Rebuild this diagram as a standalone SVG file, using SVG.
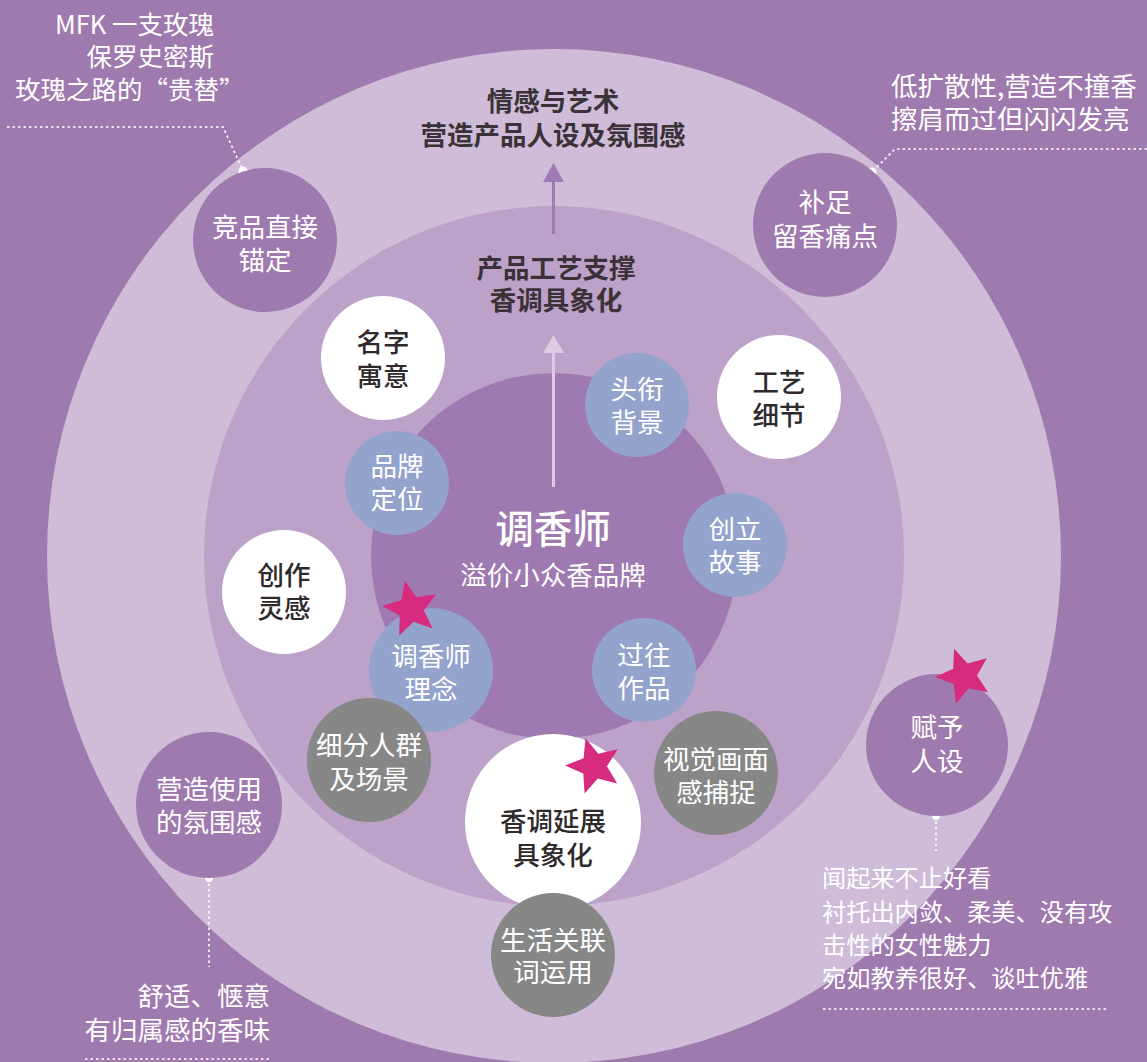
<svg xmlns="http://www.w3.org/2000/svg" width="1147" height="1062" viewBox="0 0 1147 1062">
<style>
text{font-family:"Noto Sans CJK SC","Noto Sans",sans-serif;}
.nt{font-size:26.5px;fill:#ffffff;text-anchor:middle;}
.dk{font-size:26.5px;fill:#2e2a2c;text-anchor:middle;font-weight:500;}
.hd{font-size:26.5px;fill:#3a3236;text-anchor:middle;font-weight:700;}
.an{fill:#ffffff;}
.a24{font-size:24.2px;}
.a25{font-size:25.5px;}
.a26{font-size:26.5px;}
.bg{fill:#9e7aae;}
.wh{fill:#ffffff;}
.bl{fill:#94a3cc;}
.gr{fill:#878787;}
.dot{stroke:#ffffff;stroke-width:1.6;stroke-dasharray:2.5 3;fill:none;}
.star{fill:#d62b7e;}
</style>
<defs>
<polygon id="star" points="0,-29 7.64,-10.52 27.58,-8.96 12.36,4.02 17.05,23.46 0,13 -17.05,23.46 -12.36,4.02 -27.58,-8.96 -7.64,-10.52"/>
</defs>
<rect width="1147" height="1062" fill="#9e7aae"/>
<g id="rings">
<circle cx="554" cy="556" r="507" fill="#cebcd8"/>
<circle cx="554" cy="556" r="350" fill="#bca2c8"/>
<circle cx="554" cy="556" r="183" fill="#9e7ab0"/>
</g>
<g id="connectors">
<line x1="553.5" y1="234" x2="553.5" y2="180" stroke="#9f7bb5" stroke-width="3"/>
<polygon points="553.5,163 564,182 543,182" fill="#9f7bb5"/>
<line x1="553.5" y1="487" x2="553.5" y2="351" stroke="#dccbe3" stroke-width="3"/>
<polygon points="553.5,335 564,353 543,353" fill="#dccbe3"/>
<polyline class="dot" points="7,127 223,127 243,171"/>
<circle cx="243" cy="171" r="4.5" fill="#ffffff"/>
<polyline class="dot" points="1147,149 895,149 872,172"/>
<circle cx="872" cy="172" r="4.5" fill="#ffffff"/>
<line class="dot" x1="936" y1="816" x2="936" y2="851"/>
<circle cx="936" cy="816" r="4" fill="#ffffff"/>
<line class="dot" x1="823" y1="1009" x2="1107" y2="1009"/>
<line class="dot" x1="209" y1="878" x2="209" y2="967"/>
<circle cx="209" cy="878" r="4" fill="#ffffff"/>
<line class="dot" x1="85" y1="1059" x2="269" y2="1059"/>
</g>
<g id="titles">
<text class="hd" x="553" y="111">情感与艺术</text>
<text class="hd" x="553" y="145">营造产品人设及氛围感</text>
<text class="hd" x="556" y="278">产品工艺支撑</text>
<text class="hd" x="556" y="310">香调具象化</text>
</g>
<g id="center">
<text x="553" y="543" font-size="38.5" fill="#ffffff" text-anchor="middle" font-weight="500">调香师</text>
<text x="553" y="585" font-size="26.5" fill="#ffffff" text-anchor="middle">溢价小众香品牌</text>
</g>
<g id="node-jingpin"><circle class="bg" cx="265" cy="240" r="72"/><text class="nt" x="265" y="237">竞品直接</text><text class="nt" x="265" y="270">锚定</text></g>
<g id="node-buzu"><circle class="bg" cx="825" cy="225" r="72"/><text class="nt" x="825" y="212">补足</text><text class="nt" x="825" y="246">留香痛点</text></g>
<g id="node-mingzi"><circle class="wh" cx="383" cy="358" r="62"/><text class="dk" x="383" y="352">名字</text><text class="dk" x="383" y="386">寓意</text></g>
<g id="node-gongyi"><circle class="wh" cx="779" cy="397" r="62"/><text class="dk" x="779" y="392">工艺</text><text class="dk" x="779" y="425">细节</text></g>
<g id="node-touxian"><circle class="bl" cx="637" cy="405" r="52"/><text class="nt" x="637" y="399">头衔</text><text class="nt" x="637" y="432">背景</text></g>
<g id="node-pinpai"><circle class="bl" cx="397" cy="483" r="52"/><text class="nt" x="397" y="476">品牌</text><text class="nt" x="397" y="509">定位</text></g>
<g id="node-chuangli"><circle class="bl" cx="735" cy="545" r="52"/><text class="nt" x="735" y="539">创立</text><text class="nt" x="735" y="572">故事</text></g>
<g id="node-chuangzuo"><circle class="wh" cx="284" cy="592" r="62"/><text class="dk" x="284" y="585">创作</text><text class="dk" x="284" y="618">灵感</text></g>
<g id="node-guowang"><circle class="bl" cx="644" cy="670" r="52"/><text class="nt" x="644" y="665">过往</text><text class="nt" x="644" y="698">作品</text></g>
<g id="node-linian"><circle class="bl" cx="431" cy="670" r="62"/><text class="nt" x="431" y="666">调香师</text><text class="nt" x="431" y="699">理念</text></g>
<g id="node-xifen"><circle class="gr" cx="369" cy="760" r="62"/><text class="nt" x="369" y="755">细分人群</text><text class="nt" x="369" y="789">及场景</text></g>
<g id="node-shijue"><circle class="gr" cx="716" cy="773" r="62"/><text class="nt" x="716" y="769">视觉画面</text><text class="nt" x="716" y="802">感捕捉</text></g>
<g id="node-xiangdiao"><circle class="wh" cx="553" cy="822" r="88"/><text class="dk" x="553" y="831">香调延展</text><text class="dk" x="553" y="865">具象化</text></g>
<g id="node-shenghuo"><circle class="gr" cx="553" cy="955" r="62"/><text class="nt" x="553" y="950">生活关联</text><text class="nt" x="553" y="982">词运用</text></g>
<g id="node-yingzao"><circle class="bg" cx="209" cy="805" r="73"/><text class="nt" x="209" y="799">营造使用</text><text class="nt" x="209" y="832">的氛围感</text></g>
<g id="node-fuyu"><circle class="bg" cx="937" cy="745" r="71"/><text class="nt" x="937" y="737">赋予</text><text class="nt" x="937" y="771">人设</text></g>
<g id="stars">
<use href="#star" class="star" transform="translate(411,609) rotate(-12)"/>
<use href="#star" class="star" transform="translate(594,766) rotate(-17)"/>
<use href="#star" class="star" transform="translate(964,676) rotate(-20)"/>
</g>
<g id="annotations">
<text class="an a25" x="214" y="34" text-anchor="end">MFK 一支玫瑰</text>
<text class="an a25" x="214" y="66" text-anchor="end">保罗史密斯</text>
<text class="an a25" x="15" y="99">玫瑰之路的“贵替”</text>
<text class="an a26" x="891" y="96">低扩散性,营造不撞香</text>
<text class="an a26" x="891" y="129">擦肩而过但闪闪发亮</text>
<text class="an a24" x="822" y="887">闻起来不止好看</text>
<text class="an a24" x="822" y="921">衬托出内敛、柔美、没有攻</text>
<text class="an a24" x="822" y="954">击性的女性魅力</text>
<text class="an a24" x="822" y="987">宛如教养很好、谈吐优雅</text>
<text class="an a26" x="270" y="1006" text-anchor="end">舒适、惬意</text>
<text class="an a26" x="270" y="1040" text-anchor="end">有归属感的香味</text>
</g>
</svg>
